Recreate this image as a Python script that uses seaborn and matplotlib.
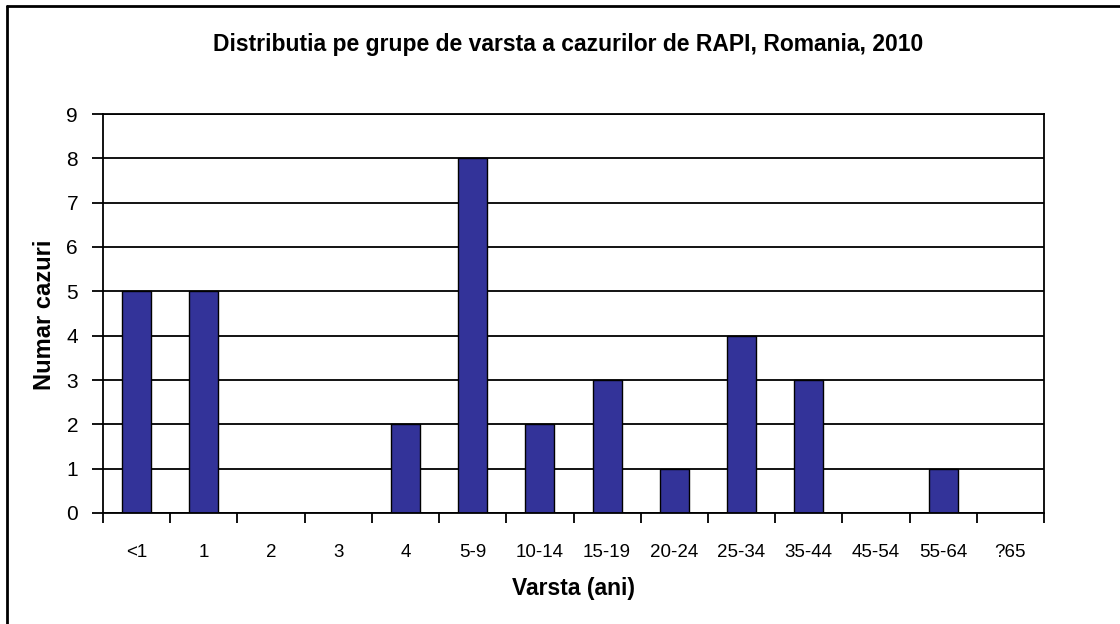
import matplotlib
matplotlib.use("Agg")
import matplotlib.pyplot as plt
from matplotlib.lines import Line2D
import seaborn as sns
import numpy as np

categories = ["<1", "1", "2", "3", "4", "5-9", "10-14", "15-19", "20-24",
              "25-34", "35-44", "45-54", "55-64", "?65"]
values = [5, 5, 0, 0, 2, 8, 2, 3, 1, 4, 3, 0, 1, 0]
title = "Distributia pe grupe de varsta a cazurilor de RAPI, Romania, 2010"
xlabel = "Varsta (ani)"
ylabel = "Numar cazuri"

sns.set_style("white")
plt.rcParams['font.family'] = ['Liberation Sans', 'DejaVu Sans']
plt.rcParams['text.color'] = 'black'
plt.rcParams['xtick.color'] = 'black'
plt.rcParams['ytick.color'] = 'black'

fig = plt.figure(figsize=(11.2, 6.24), dpi=100)
ax = fig.add_axes([103/1120, 1-513/624, (1044-103)/1120, (513-114)/624])

sns.barplot(x=categories, y=values, order=categories, color="#333399",
            edgecolor="black", linewidth=1.0, width=0.43, saturation=1, ax=ax)

ax.set_xlim(-0.5, len(categories) - 0.5)
ax.set_ylim(0, 9)
ax.set_yticks(range(0, 10))
ax.yaxis.grid(True, color="black", linewidth=1.3)
ax.set_axisbelow(True)
for s in ax.spines.values():
    s.set_visible(True)
    s.set_color("black")
    s.set_linewidth(1.3)

ax.tick_params(axis="y", which="major", length=8, width=1.3, color="black",
               labelsize=15, pad=10, left=True, labelcolor="black")
ax.set_xticks(np.arange(len(categories)))
ax.set_xticklabels(categories)
ax.tick_params(axis="x", which="major", length=0, labelsize=13.5, pad=22,
               labelcolor="black")
ax.set_xticks(np.arange(-0.5, len(categories)), minor=True)
ax.tick_params(axis="x", which="minor", length=7, width=1.3, color="black",
               bottom=True, direction="out")

ax.set_xlabel("")
ax.set_ylabel("")
fig.text(573/1120, 1-588/624, xlabel, ha="center", va="center",
         fontsize=16.5, fontweight="bold", color="black")
fig.text(45/1120, 1-315/624, ylabel, ha="center", va="center",
         fontsize=17, fontweight="bold", rotation=90, color="black")
fig.text(568/1120, 1-45/624, title, ha="center", va="center",
         fontsize=16.5, fontweight="bold", color="black")

fig.add_artist(Line2D([7/1120, 7/1120], [0, 1-6/624], color="black",
                      linewidth=2, transform=fig.transFigure))
fig.add_artist(Line2D([7/1120, 1], [1-6/624, 1-6/624], color="black",
                      linewidth=2, transform=fig.transFigure))

fig.savefig("out.png", dpi=100, facecolor="white")
